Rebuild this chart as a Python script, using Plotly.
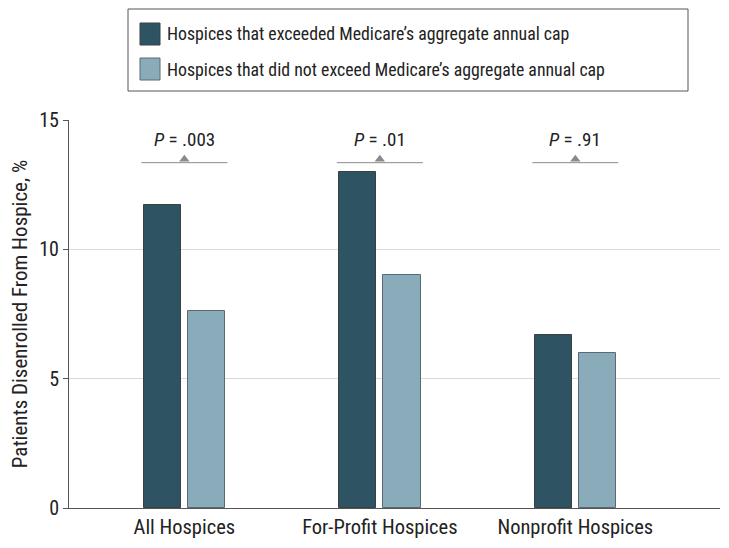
import plotly.graph_objects as go

categories = ["All Hospices", "For-Profit Hospices", "Nonprofit Hospices"]
exceeded = [11.7, 13.0, 6.7]
not_exceeded = [7.6, 9.0, 6.0]
p_labels = ["<i>P</i> = .003", "<i>P</i> = .01", "<i>P</i> = .91"]
p_level = 13.35
series_names = ["Hospices that exceeded Medicare’s aggregate annual cap",
                "Hospices that did not exceed Medicare’s aggregate annual cap"]
colors = ["#2e5463", "#8aabba"]
edge_colors = ["#3a3f42", "#5a6a72"]

FONT = "Liberation Sans Narrow, Roboto Condensed, Roboto, sans-serif"
W, H = 713, 532
L, R, T, B = 61, 1, 112, 32
pw, ph = W - L - R, H - T - B

def px(x):
    return (x - L) / pw

def py(y):
    return (H - B - y) / ph

x = list(range(len(categories)))
off = 0.113
bw = 0.19

fig = go.Figure()
fig.add_bar(x=[i - off for i in x], y=exceeded, width=bw, name=series_names[0], showlegend=False,
            marker=dict(color=colors[0], line=dict(color=edge_colors[0], width=1)))
fig.add_bar(x=[i + off for i in x], y=not_exceeded, width=bw, name=series_names[1], showlegend=False,
            marker=dict(color=colors[1], line=dict(color=edge_colors[1], width=1)))

for i in x:
    fig.add_shape(type="line", x0=i - 0.22, x1=i + 0.22, y0=p_level, y1=p_level,
                  line=dict(color="#8a8a8a", width=1))
    fig.add_annotation(x=i, y=p_level, yshift=23, text=p_labels[i], showarrow=False,
                       font=dict(size=19, color="#222", family=FONT))
fig.add_scatter(x=x, y=[p_level + 0.13] * 3, mode="markers", showlegend=False, hoverinfo="skip",
                marker=dict(symbol="triangle-up", size=9, color="#8a8a8a"),
                cliponaxis=False)

# manual legend box
fig.add_shape(type="rect", xref="paper", yref="paper", x0=px(120), x1=px(680), y0=py(83), y1=py(1),
              line=dict(color="#555", width=1), fillcolor="white")
for k, (name, c, ec) in enumerate(zip(series_names, colors, edge_colors)):
    ytop = 15 + 35 * k
    fig.add_shape(type="rect", xref="paper", yref="paper", x0=px(132), x1=px(152),
                  y0=py(ytop + 22), y1=py(ytop), fillcolor=c, line=dict(color=ec, width=1))
    fig.add_annotation(xref="paper", yref="paper", x=px(157), y=py(ytop + 11), xanchor="left",
                       yanchor="middle", text=name, showarrow=False,
                       font=dict(size=17.8, color="#222", family=FONT))

fig.update_layout(
    width=W, height=H,
    margin=dict(l=L, r=R, t=T, b=B),
    plot_bgcolor="white", paper_bgcolor="white",
    font=dict(family=FONT, size=20, color="#222"),
    bargap=0, showlegend=False,
    xaxis=dict(range=[-0.59, 2.74], tickvals=x, ticktext=categories, showgrid=False,
               showline=True, linecolor="#555", linewidth=1, ticks="", zeroline=False,
               tickfont=dict(size=20.5)),
    yaxis=dict(range=[0, 15], tickvals=[0, 5, 10, 15], showgrid=True, gridcolor="#d9d9d9",
               showline=True, linecolor="#555", ticks="outside", ticklen=5, tickcolor="#555",
               zeroline=False, tickfont=dict(size=20),
               title=dict(text="Patients Disenrolled From Hospice, %", font=dict(size=21), standoff=12)),
)
fig.write_html("out.html")
